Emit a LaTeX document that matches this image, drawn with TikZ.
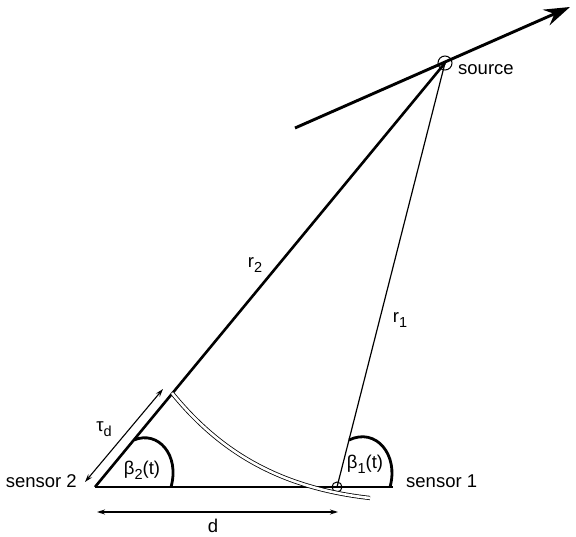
\documentclass[tikz,border=0pt]{standalone}
\usepackage{fontspec}
\setmainfont{Liberation Sans}
\usetikzlibrary{arrows.meta}
\newcommand{\lowsub}[1]{\raisebox{-0.5ex}{\fontsize{14.5}{15}\selectfont #1}}
\begin{document}
\begin{tikzpicture}[x=1pt,y=-1pt,
  lbl/.style={font=\fontsize{18.5}{21}\selectfont, inner sep=0pt},
  traj/.style={line width=2.9pt, -{Stealth[length=26pt,width=17pt,inset=9pt]}},
  rtwo/.style={line width=2.6pt},
  rone/.style={line width=1.2pt},
  base/.style={line width=1.4pt},
  anglearc/.style={line width=2.8pt},
  dim/.style={line width=1.1pt, {Stealth[length=8pt,width=5pt]}-{Stealth[length=8pt,width=5pt]}},
  wave/.style={double, double distance=2.6pt, line width=0.8pt},
  ring/.style={circle, draw, line width=1pt, inner sep=0pt}]
\useasboundingbox (0,0) rectangle (576,537);
% key points
\coordinate (trajA) at (295,128);
\coordinate (trajB) at (570,7);
\coordinate (s2) at (95,487);
\coordinate (bend) at (393,487);
\coordinate (w1) at (172,393);
\coordinate (w2) at (370,498);
\coordinate (tauA) at (85,482);
\coordinate (tauB) at (163,389);
\coordinate (dL) at (97,512);
\coordinate (dR) at (338,512);
\coordinate (b2a) at (134,440);
\coordinate (b2b) at (171,487);
\coordinate (b1a) at (349,440);
\coordinate (b1b) at (390,487);
% trajectory
\draw[traj] (trajA) -- (trajB);
% source and sensor 1 rings
\node[ring, minimum size=14pt] (src) at (445,63) {};
\node[ring, minimum size=10pt] (s1) at (337,487) {};
% range lines
\draw[rtwo] (s2) -- (src.center);
\draw[rone] (s1.center) -- (src.center);
% baseline
\draw[base] (s2) -- (bend);
% wavefront
\draw[wave] (w1) .. controls (220,452) and (280,488) .. (w2);
% angle arcs
\draw[anglearc] (b2a) .. controls (158,430) and (180,455) .. (b2b);
\draw[anglearc] (b1a) .. controls (376,427) and (399,455) .. (b1b);
% dimension arrows
\draw[dim] (tauA) -- (tauB);
\draw[dim] (dL) -- (dR);
% labels
\node[lbl, anchor=west] (srclbl) at (458,70) {source};
\node[lbl, anchor=base east] (s2lbl) at (77,487) {sensor 2};
\node[lbl, anchor=base west] (s1lbl) at (406,487) {sensor 1};
\node[lbl] (beta2) at (142,470) {β\lowsub{2}(t)};
\node[lbl] (beta1) at (365,464) {β\lowsub{1}(t)};
\node[lbl] (taulbl) at (104,429) {τ\lowsub{d}};
\node[lbl] (r2lbl) at (255,265) {r\lowsub{2}};
\node[lbl] (r1lbl) at (400,320) {r\lowsub{1}};
\node[lbl] (dlbl) at (213,526) {d};
\end{tikzpicture}
\end{document}
